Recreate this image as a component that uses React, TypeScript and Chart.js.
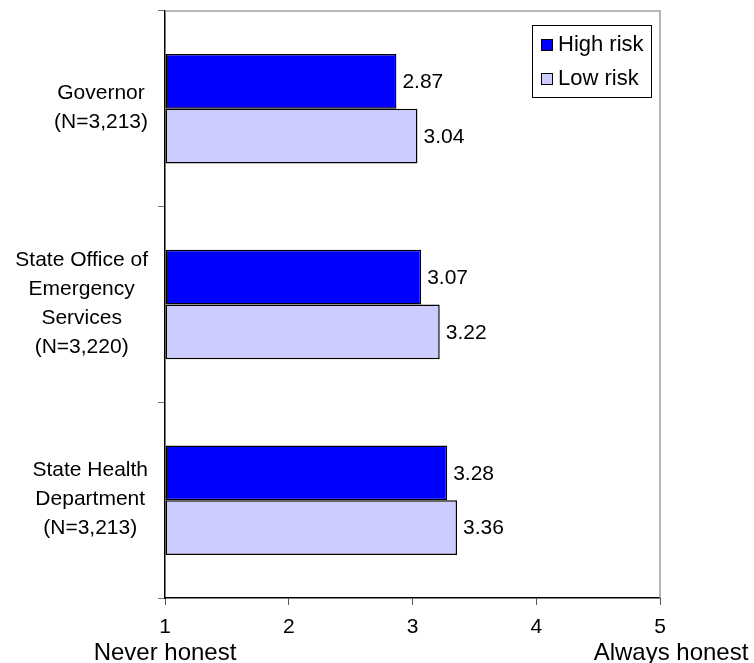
import React, { useEffect, useRef } from "react";
import { Chart, registerables } from "chart.js";

Chart.register(...registerables);

const categories: string[][] = [
  ["Governor", "(N=3,213)"],
  ["State Office of", "Emergency", "Services", "(N=3,220)"],
  ["State Health", "Department", "(N=3,213)"],
];
const highRisk = [2.87, 3.07, 3.28];
const lowRisk = [3.04, 3.22, 3.36];
const seriesNames = ["High risk", "Low risk"];
const xTicks = [1, 2, 3, 4, 5];
const xEndLabels = ["Never honest", "Always honest"];

const FONT = "Liberation Sans, Arial, sans-serif";
const HIGH_COLOR = "#0000FF";
const LOW_COLOR = "#CCCCFF";

export default function App() {
  const ref = useRef<HTMLCanvasElement | null>(null);

  useEffect(() => {
    if (!ref.current) return;
    const decor = {
      id: "decor",
      afterDatasetsDraw(chart: any) {
        const ctx = chart.ctx;
        const area = chart.chartArea;
        ctx.save();
        // gray plot border top & right
        ctx.strokeStyle = "#a0a0a0";
        ctx.lineWidth = 1.5;
        ctx.beginPath();
        ctx.moveTo(area.left, area.top);
        ctx.lineTo(area.right, area.top);
        ctx.lineTo(area.right, area.bottom);
        ctx.stroke();

        // data labels
        ctx.fillStyle = "#000";
        ctx.font = `21px ${FONT}`;
        ctx.textAlign = "left";
        ctx.textBaseline = "middle";
        chart.data.datasets.forEach((ds: any, di: number) => {
          const meta = chart.getDatasetMeta(di);
          meta.data.forEach((el: any, i: number) => {
            ctx.fillText(ds.data[i].toFixed(2), el.x + 6, el.y + 1);
          });
        });

        // category labels
        const yScale = chart.scales.y;
        const lineH = 29;
        ctx.font = `21px ${FONT}`;
        categories.forEach((lines, i) => {
          const cy = yScale.getPixelForValue(i);
          let w = 0;
          lines.forEach((l) => (w = Math.max(w, ctx.measureText(l).width)));
          const cx = 148 - w / 2;
          ctx.textAlign = "center";
          const start = cy - 1 - ((lines.length - 1) * lineH) / 2;
          lines.forEach((l, k) => ctx.fillText(l, cx, start + k * lineH));
        });

        // x end labels
        const xScale = chart.scales.x;
        ctx.font = `24px ${FONT}`;
        ctx.textAlign = "center";
        ctx.fillText(xEndLabels[0], xScale.getPixelForValue(xTicks[0]), 653);
        ctx.fillText(xEndLabels[1], xScale.getPixelForValue(xTicks[xTicks.length - 1]) + 11, 653);

        // legend
        ctx.fillStyle = "#fff";
        ctx.fillRect(532, 25, 119, 72);
        ctx.strokeStyle = "#000";
        ctx.lineWidth = 1;
        ctx.strokeRect(532.5, 25.5, 119, 72);
        const colors = [HIGH_COLOR, LOW_COLOR];
        const ys = [45, 79];
        ctx.font = `22px ${FONT}`;
        seriesNames.forEach((n, k) => {
          ctx.fillStyle = colors[k];
          ctx.fillRect(541, ys[k] - 6, 12, 12);
          ctx.strokeStyle = "#000";
          ctx.strokeRect(541.5, ys[k] - 5.5, 11, 11);
          ctx.fillStyle = "#000";
          ctx.textAlign = "left";
          ctx.fillText(n, 558, ys[k]);
        });
        ctx.restore();
      },
    };

    const chart = new Chart(ref.current, {
      type: "bar",
      data: {
        labels: categories.map((c) => c.join(" ")),
        datasets: [
          {
            label: seriesNames[0],
            data: highRisk,
            backgroundColor: HIGH_COLOR,
            borderColor: "#000",
            borderWidth: 1.5,
            borderSkipped: false,
            base: 1,
          } as any,
          {
            label: seriesNames[1],
            data: lowRisk,
            backgroundColor: LOW_COLOR,
            borderColor: "#000",
            borderWidth: 1.5,
            borderSkipped: false,
            base: 1,
          } as any,
        ],
      },
      options: {
        indexAxis: "y",
        animation: false,
        responsive: false,
        maintainAspectRatio: false,
        datasets: { bar: { categoryPercentage: 0.56, barPercentage: 1 } },
        layout: { padding: { top: 11, right: 94, left: 0, bottom: 0 } },
        plugins: { legend: { display: false }, tooltip: { enabled: false } },
        scales: {
          x: {
            type: "linear",
            min: 1,
            max: 5,
            afterBuildTicks: (s: any) => {
              s.ticks = xTicks.map((v) => ({ value: v }));
            },
            afterFit: (s: any) => {
              s.height = 65;
            },
            ticks: {
              color: "#000",
              font: { family: FONT, size: 21 },
              padding: 10,
              maxRotation: 0,
              autoSkip: false,
            },
            grid: { drawOnChartArea: false, drawTicks: true, tickLength: 7, color: "#555" },
            border: { color: "#000", width: 1.5 },
          },
          y: {
            type: "category",
            afterFit: (s: any) => {
              s.width = 165;
            },
            ticks: { display: false },
            grid: { drawOnChartArea: false, drawTicks: true, tickLength: 7, color: "#777", offset: true },
            border: { color: "#000", width: 1.5 },
          },
        },
      },
      plugins: [decor],
    } as any);
    return () => chart.destroy();
  }, []);

  return (
    <div style={{ position: "fixed", left: 0, top: 0, width: 754, height: 663, background: "#fff" }}>
      <canvas ref={ref} width={754} height={663} style={{ width: 754, height: 663 }} />
    </div>
  );
}
